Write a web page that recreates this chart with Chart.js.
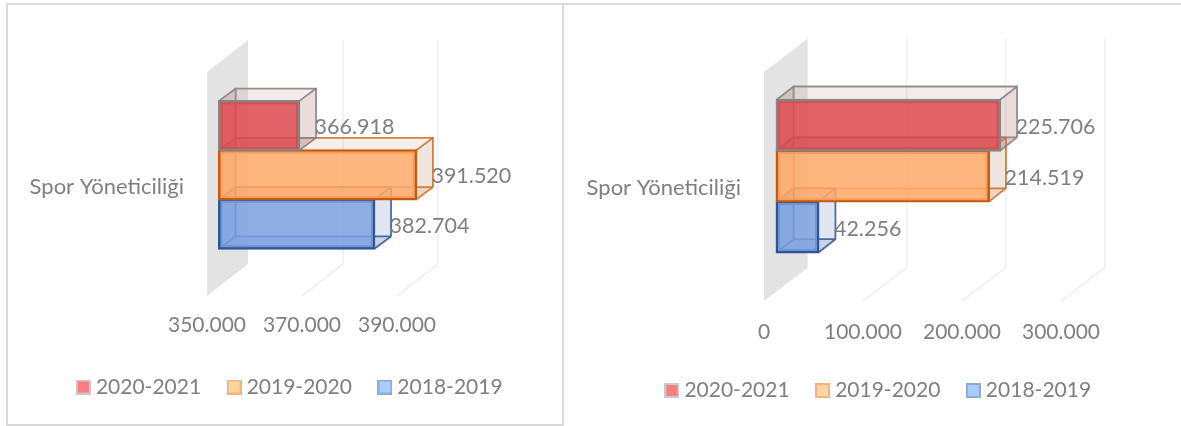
<!DOCTYPE html>
<html>
<head>
<meta charset="utf-8">
<script src="https://cdn.jsdelivr.net/npm/chart.js@4"></script>
<style>
html,body{margin:0;padding:0;background:#fff;width:1181px;height:426px;overflow:hidden}
canvas{position:absolute;top:0}
.rule{position:absolute;background:#D9D9D9}
</style>
</head>
<body>
<div class="rule" style="left:6px;top:3px;width:1175px;height:2px"></div>
<div class="rule" style="left:6px;top:3px;width:2px;height:422px"></div>
<div class="rule" style="left:562px;top:3px;width:2px;height:422px"></div>
<div class="rule" style="left:6px;top:424px;width:558px;height:2px"></div>
<canvas id="left" width="584" height="426" style="left:0"></canvas>
<canvas id="right" width="609" height="426" style="left:576px"></canvas>
<script>
const categories = ["Spor Yöneticiliği"];
const seriesNames = ["2020-2021", "2019-2020", "2018-2019"];
const leftValues2021 = [366918];
const leftValues2020 = [391520];
const leftValues2019 = [382704];
const rightValues2021 = [225706];
const rightValues2020 = [214519];
const rightValues2019 = [42256];
const leftTicks = [350000, 370000, 390000];
const rightTicks = [0, 100000, 200000, 300000];

const FONT = "Lato";
const TEXT = "#7F7F7F";
const styles = [
  {front:"rgba(221,73,78,.85)",  edge:"#858585", back:"rgba(133,133,133,.9)", side:"rgba(190,140,135,.30)", top:"rgba(200,160,150,.20)", tint:"rgba(170,40,40,.14)", sw:"#FF7C80", swEdge:"#C9C9C9"},
  {front:"rgba(254,169,105,.85)",edge:"#C55A11", back:"rgba(214,104,30,.85)", side:"rgba(190,150,120,.24)", top:"rgba(200,165,135,.18)", tint:"rgba(210,100,30,.14)", sw:"#FFD59E", swEdge:"#F4B183"},
  {front:"rgba(122,160,223,.85)",edge:"#2F5597", back:"rgba(47,85,151,.85)",  side:"rgba(130,150,195,.24)", top:"rgba(130,150,195,.18)", tint:"rgba(40,80,160,.14)",  sw:"#A9CDFB", swEdge:"#8FAADC"}
];
const fmt = v => String(v).replace(/\B(?=(\d{3})+$)/g, ".");

function swatch(s){
  const c = document.createElement("canvas");
  c.width = 15; c.height = 15;
  const g = c.getContext("2d");
  g.fillStyle = s.swEdge; g.fillRect(0,0,15,15);
  g.fillStyle = s.sw; g.fillRect(2,2,11,11);
  return c;
}
function poly(ctx, pts, fill, stroke, lw){
  ctx.beginPath();
  pts.forEach((p,i)=> i ? ctx.lineTo(p[0],p[1]) : ctx.moveTo(p[0],p[1]));
  if(fill){ctx.closePath();ctx.fillStyle=fill;ctx.fill();}
  if(stroke){ctx.strokeStyle=stroke;ctx.lineWidth=lw||1.8;ctx.stroke();}
}

const box3d = {
  id:"box3d",
  beforeDatasetsDraw(chart, a, o){
    const {ctx, chartArea:{top,bottom}, scales:{x}} = chart;
    const dx=o.wall[0], dy=o.wall[1];
    ctx.save();
    x.ticks.forEach((t,i)=>{
      const px = x.getPixelForTick(i);
      if(i===0){
        poly(ctx,[[px,top],[px+dx,top-dy],[px+dx,bottom-dy],[px,bottom]],"#E3E3E3");
      }else{
        poly(ctx,[[px,bottom],[px+dx,bottom-dy],[px+dx,top-dy]],null,"#EFEFEF",1.6);
      }
    });
    ctx.restore();
  },
  beforeDatasetDraw(chart, args, o){
    const el = args.meta.data[0], s = styles[args.index], ctx = chart.ctx;
    const ox=o.shift[0], oy=o.shift[1], dx=o.depth[0], dy=o.depth[1];
    const x0=el.base+ox, x1=el.x+ox, y0=el.y-el.height/2+oy, y1=el.y+el.height/2+oy;
    ctx.save();
    poly(ctx,[[x0,y1],[x0+dx,y1-dy],[x0+dx,y0-dy],[x0,y0]],s.tint);
    poly(ctx,[[x0,y1],[x1,y1],[x1+dx,y1-dy],[x0+dx,y1-dy]],s.tint);
    poly(ctx,[[x1,y0],[x1+dx,y0-dy],[x1+dx,y1-dy],[x1,y1]],s.side);
    poly(ctx,[[x0,y0],[x1,y0],[x1+dx,y0-dy],[x0+dx,y0-dy]],s.top);
    poly(ctx,[[x0+dx,y1-dy],[x0+dx,y0-dy],[x1+dx,y0-dy],[x1+dx,y1-dy]],null,s.back);
    poly(ctx,[[x0+dx,y1-dy],[x1+dx,y1-dy]],null,s.back);
    [[x0,y0],[x1,y0],[x1,y1],[x0,y1]].forEach(p=>poly(ctx,[p,[p[0]+dx,p[1]-dy]],null,s.back));
    ctx.restore();
    ctx.save();
    ctx.translate(ox,oy);
  },
  afterDatasetDraw(chart){ chart.ctx.restore(); },
  afterDatasetsDraw(chart, a, o){
    const ctx = chart.ctx;
    ctx.save();
    ctx.font = "21.5px "+FONT; ctx.fillStyle = TEXT;
    ctx.textAlign = "left"; ctx.textBaseline = "middle";
    chart.data.datasets.forEach((d,i)=>{
      const el = chart.getDatasetMeta(i).data[0];
      ctx.fillText(fmt(d.data[0]), el.x+o.shift[0]+o.depth[0]-1.5, el.y+o.shift[1]+1.5);
    });
    ctx.restore();
  }
};

function build(id, values, ticks, g){
  new Chart(document.getElementById(id),{
    type:"bar",
    plugins:[box3d],
    data:{
      labels:categories,
      datasets:values.map((v,i)=>({
        label:seriesNames[i], data:v, base:ticks[0],
        backgroundColor:styles[i].front, borderColor:styles[i].edge,
        borderWidth:2.4, borderSkipped:false, clip:false, inflateAmount:1,
        categoryPercentage:g.cat, barPercentage:1
      }))
    },
    options:{
      indexAxis:"y", responsive:false, animation:false, devicePixelRatio:1,
      layout:{padding:{left:0,right:0,top:g.top,bottom:g.pb}},
      scales:{
        x:{type:"linear",min:ticks[0],max:ticks[ticks.length-1],
           grid:{display:false},border:{display:false},
           afterFit:s=>{s.height=g.axisH;},
           afterBuildTicks:s=>{s.ticks=ticks.map(v=>({value:v}));},
           ticks:{padding:g.tickPad,maxRotation:0,autoSkip:false,color:TEXT,font:{family:FONT,size:21},callback:fmt}},
        y:{grid:{display:false},border:{display:false},
           afterFit:s=>{s.width=g.axisW;},
           ticks:{padding:15,labelOffset:g.catOff,color:TEXT,font:{family:FONT,size:22}}},
        y2:{type:"linear",axis:"y",position:"right",display:true,
           grid:{display:false},border:{display:false},ticks:{display:false},
           afterFit:s=>{s.width=g.rightW;}}
      },
      plugins:{
        tooltip:{enabled:false},
        box3d:{wall:g.wall,shift:g.shift,depth:g.depth},
        legend:{position:"bottom",
          labels:{usePointStyle:true,pointStyleWidth:4,boxHeight:15,padding:31,color:TEXT,font:{family:FONT,size:21},
            generateLabels:c=>c.data.datasets.map((d,i)=>({text:d.label,fontColor:TEXT,pointStyle:swatch(styles[i]),datasetIndex:i,hidden:false,lineWidth:0}))}}
      }
    }
  });
}

build("left",[leftValues2021,leftValues2020,leftValues2019],leftTicks,{
  cat:0.66,top:72,pb:18.5,axisH:49.5,axisW:207,rightW:187,tickPad:9,catOff:2.5,
  wall:[41,32],shift:[12,-9.2],depth:[16.7,12.3]});
build("right",[rightValues2021,rightValues2020,rightValues2019],rightTicks,{
  cat:0.667,top:72,pb:15,axisH:48,axisW:188,rightW:124,tickPad:11,catOff:1,
  wall:[43.7,33.3],shift:[12.6,-10.35],depth:[17,13.3]});
</script>
</body>
</html>
